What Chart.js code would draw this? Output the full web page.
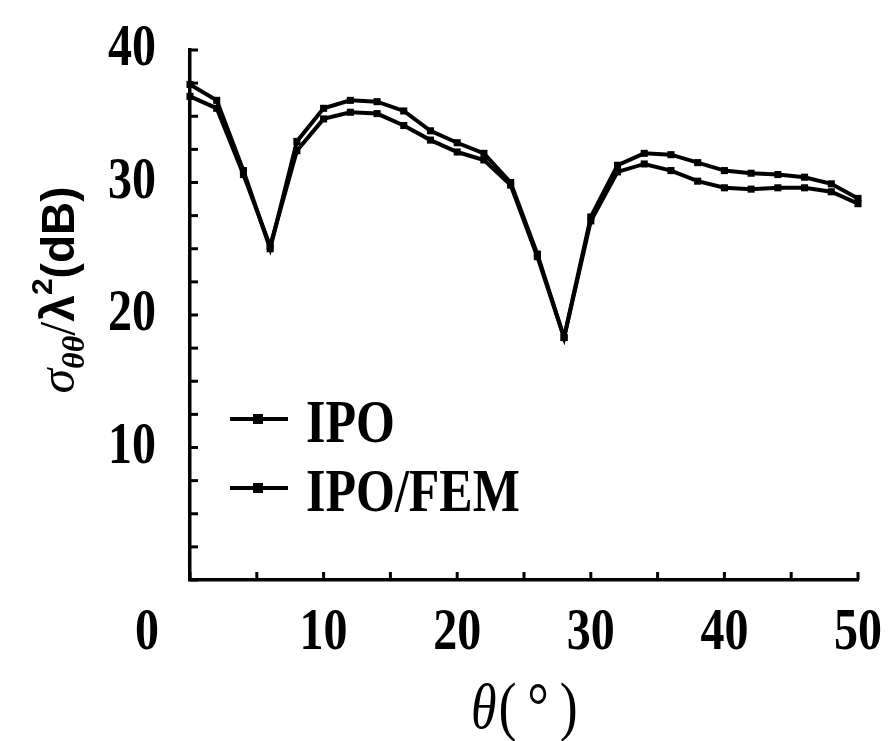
<!DOCTYPE html>
<html>
<head>
<meta charset="utf-8">
<title>Backscatter vs angle</title>
<script src="https://cdn.jsdelivr.net/npm/chart.js@4.4.0/dist/chart.umd.min.js"></script>
<style>
  html, body { margin: 0; padding: 0; background: #fff; }
  #wrap { width: 889px; height: 741px; }
</style>
</head>
<body>
<div id="wrap"><canvas id="rcsChart" width="889" height="741"></canvas></div>
<script>
// theta (degrees), one sample every 2 degrees
const angles = [0, 2, 4, 6, 8, 10, 12, 14, 16, 18, 20, 22, 24, 26, 28, 30, 32, 34, 36, 38, 40, 42, 44, 46, 48, 50];

// sigma/lambda^2 in dB
const ipoValues = [37.4, 36.2, 30.9, 25.0, 33.1, 35.6, 36.2, 36.1, 35.4, 33.9, 33.0, 32.2, 30.0, 24.6, 18.3,
                   27.4, 31.3, 32.2, 32.1, 31.5, 30.9, 30.7, 30.6, 30.4, 29.9, 28.8];
const ipoFemValues = [36.5, 35.6, 30.6, 25.2, 32.4, 34.8, 35.3, 35.2, 34.3, 33.2, 32.3, 31.7, 29.8, 24.4, 18.3,
                      27.1, 30.8, 31.4, 30.9, 30.1, 29.6, 29.5, 29.6, 29.6, 29.3, 28.4];

const seriesNames = ['IPO', 'IPO/FEM'];
const xTickLabels = ['0', '10', '20', '30', '40', '50'];
const yTickLabels = ['10', '20', '30', '40'];

const SERIF = '"Liberation Serif", "Times New Roman", serif';
const SANS = '"Liberation Sans", Arial, sans-serif';

// draw a text with optional vertical stretch (the scanned figure has tall glyphs)
function drawText(ctx, text, x, y, font, align, baseline, stretch) {
    ctx.save();
    ctx.translate(x, y);
    ctx.scale(1, stretch || 1);
    ctx.font = font;
    ctx.textAlign = align;
    ctx.textBaseline = baseline;
    ctx.fillStyle = '#000';
    ctx.fillText(text, 0, 0);
    ctx.restore();
}

const paperAxes = {
    id: 'paperAxes',
    afterDraw(chart) {
        const ctx = chart.ctx;
        const xs = chart.scales.x;
        const ys = chart.scales.y;
        const area = chart.chartArea;

        // inward tick marks
        ctx.save();
        ctx.strokeStyle = '#000';
        ctx.lineWidth = 3;
        ys.ticks.forEach(t => {
            const py = ys.getPixelForValue(t.value);
            ctx.beginPath();
            ctx.moveTo(area.left, py);
            ctx.lineTo(area.left + 8, py);
            ctx.stroke();
        });
        xs.ticks.forEach(t => {
            const px = xs.getPixelForValue(t.value);
            ctx.beginPath();
            ctx.moveTo(px, area.bottom);
            ctx.lineTo(px, area.bottom - 8);
            ctx.stroke();
        });
        ctx.restore();

        // tick labels
        const tickFont = 'bold 48px ' + SERIF;
        xTickLabels.forEach(lbl => {
            const v = Number(lbl);
            let px = xs.getPixelForValue(v);
            if (v === 0) px -= 43; // origin label sits left of the axis
            drawText(ctx, lbl, px, 634, tickFont, 'center', 'middle', 1.22);
        });
        yTickLabels.forEach(lbl => {
            const py = ys.getPixelForValue(Number(lbl));
            drawText(ctx, lbl, 132, py, tickFont, 'center', 'middle', 1.22);
        });

        // y axis title: sigma_{theta theta} / lambda^2 (dB)
        ctx.save();
        ctx.translate(74, 290);
        ctx.rotate(-Math.PI / 2);
        const parts = [
            { t: '\u03C3', f: 'italic 50px ' + SERIF, dy: 0 },
            { t: '\u03B8\u03B8', f: 'italic bold 32px ' + SERIF, dy: 10 },
            { t: '/', f: '50px ' + SERIF, dy: 0 },
            { t: '\u03BB', f: 'bold 48px ' + SANS, dy: 0 },
            { t: '2', f: 'bold 30px ' + SANS, dy: -22 },
            { t: '(dB)', f: 'bold 46px ' + SANS, dy: 0 }
        ];
        let total = 0;
        parts.forEach(p => { ctx.font = p.f; p.w = ctx.measureText(p.t).width; total += p.w; });
        let cx = -total / 2;
        ctx.fillStyle = '#000';
        ctx.textBaseline = 'alphabetic';
        ctx.textAlign = 'left';
        parts.forEach(p => {
            ctx.font = p.f;
            ctx.fillText(p.t, cx, p.dy);
            cx += p.w;
        });
        ctx.restore();

        // x axis title: theta (deg)
        ctx.save();
        ctx.font = 'italic 52px ' + SERIF;
        const wTheta = ctx.measureText('\u03B8').width;
        ctx.font = '54px ' + SERIF;
        const wRest = ctx.measureText('( \u00B0 )').width;
        const x0 = 526 - (wTheta + wRest) / 2;
        drawText(ctx, '\u03B8', x0, 728, 'italic 52px ' + SERIF, 'left', 'alphabetic', 1.2);
        drawText(ctx, '(\u2009\u00B0\u2009)', x0 + wTheta + 2, 728, '54px ' + SERIF, 'left', 'alphabetic', 1.2);
        ctx.restore();

        // legend
        const legendRows = [419, 488];
        chart.data.datasets.forEach((ds, i) => {
            const ly = legendRows[i];
            ctx.save();
            ctx.strokeStyle = '#000';
            ctx.lineWidth = 4;
            ctx.beginPath();
            ctx.moveTo(230, ly);
            ctx.lineTo(288, ly);
            ctx.stroke();
            ctx.fillStyle = '#000';
            ctx.fillRect(253, ly - 5, 10, 10);
            ctx.restore();
            drawText(ctx, ds.label, 306, ly + 23, 'bold 50px ' + SERIF, 'left', 'alphabetic', 1.22);
        });
    }
};

const toPoints = vals => angles.map((a, i) => ({ x: a, y: vals[i] }));

const lineStyle = {
    borderColor: '#000',
    backgroundColor: '#000',
    borderWidth: 4,
    pointRadius: 5,
    pointBorderWidth: 0,
    pointStyle: 'rect',
    tension: 0,
    clip: false
};

new Chart(document.getElementById('rcsChart').getContext('2d'), {
    type: 'line',
    data: {
        datasets: [
            Object.assign({ label: seriesNames[0], data: toPoints(ipoValues) }, lineStyle),
            Object.assign({ label: seriesNames[1], data: toPoints(ipoFemValues) }, lineStyle)
        ]
    },
    options: {
        responsive: false,
        animation: false,
        devicePixelRatio: 1,
        layout: { padding: { left: 190, right: 31, top: 50, bottom: 161 } },
        plugins: {
            legend: { display: false },
            tooltip: { enabled: false }
        },
        scales: {
            x: {
                type: 'linear',
                min: 0,
                max: 50,
                ticks: { display: false, stepSize: 5 },
                grid: { display: false, drawTicks: false },
                border: { display: true, color: '#000', width: 3.5 }
            },
            y: {
                type: 'linear',
                min: 0,
                max: 40,
                ticks: { display: false, stepSize: 2.5 },
                grid: { display: false, drawTicks: false },
                border: { display: true, color: '#000', width: 3.5 }
            }
        }
    },
    plugins: [paperAxes]
});
</script>
</body>
</html>
